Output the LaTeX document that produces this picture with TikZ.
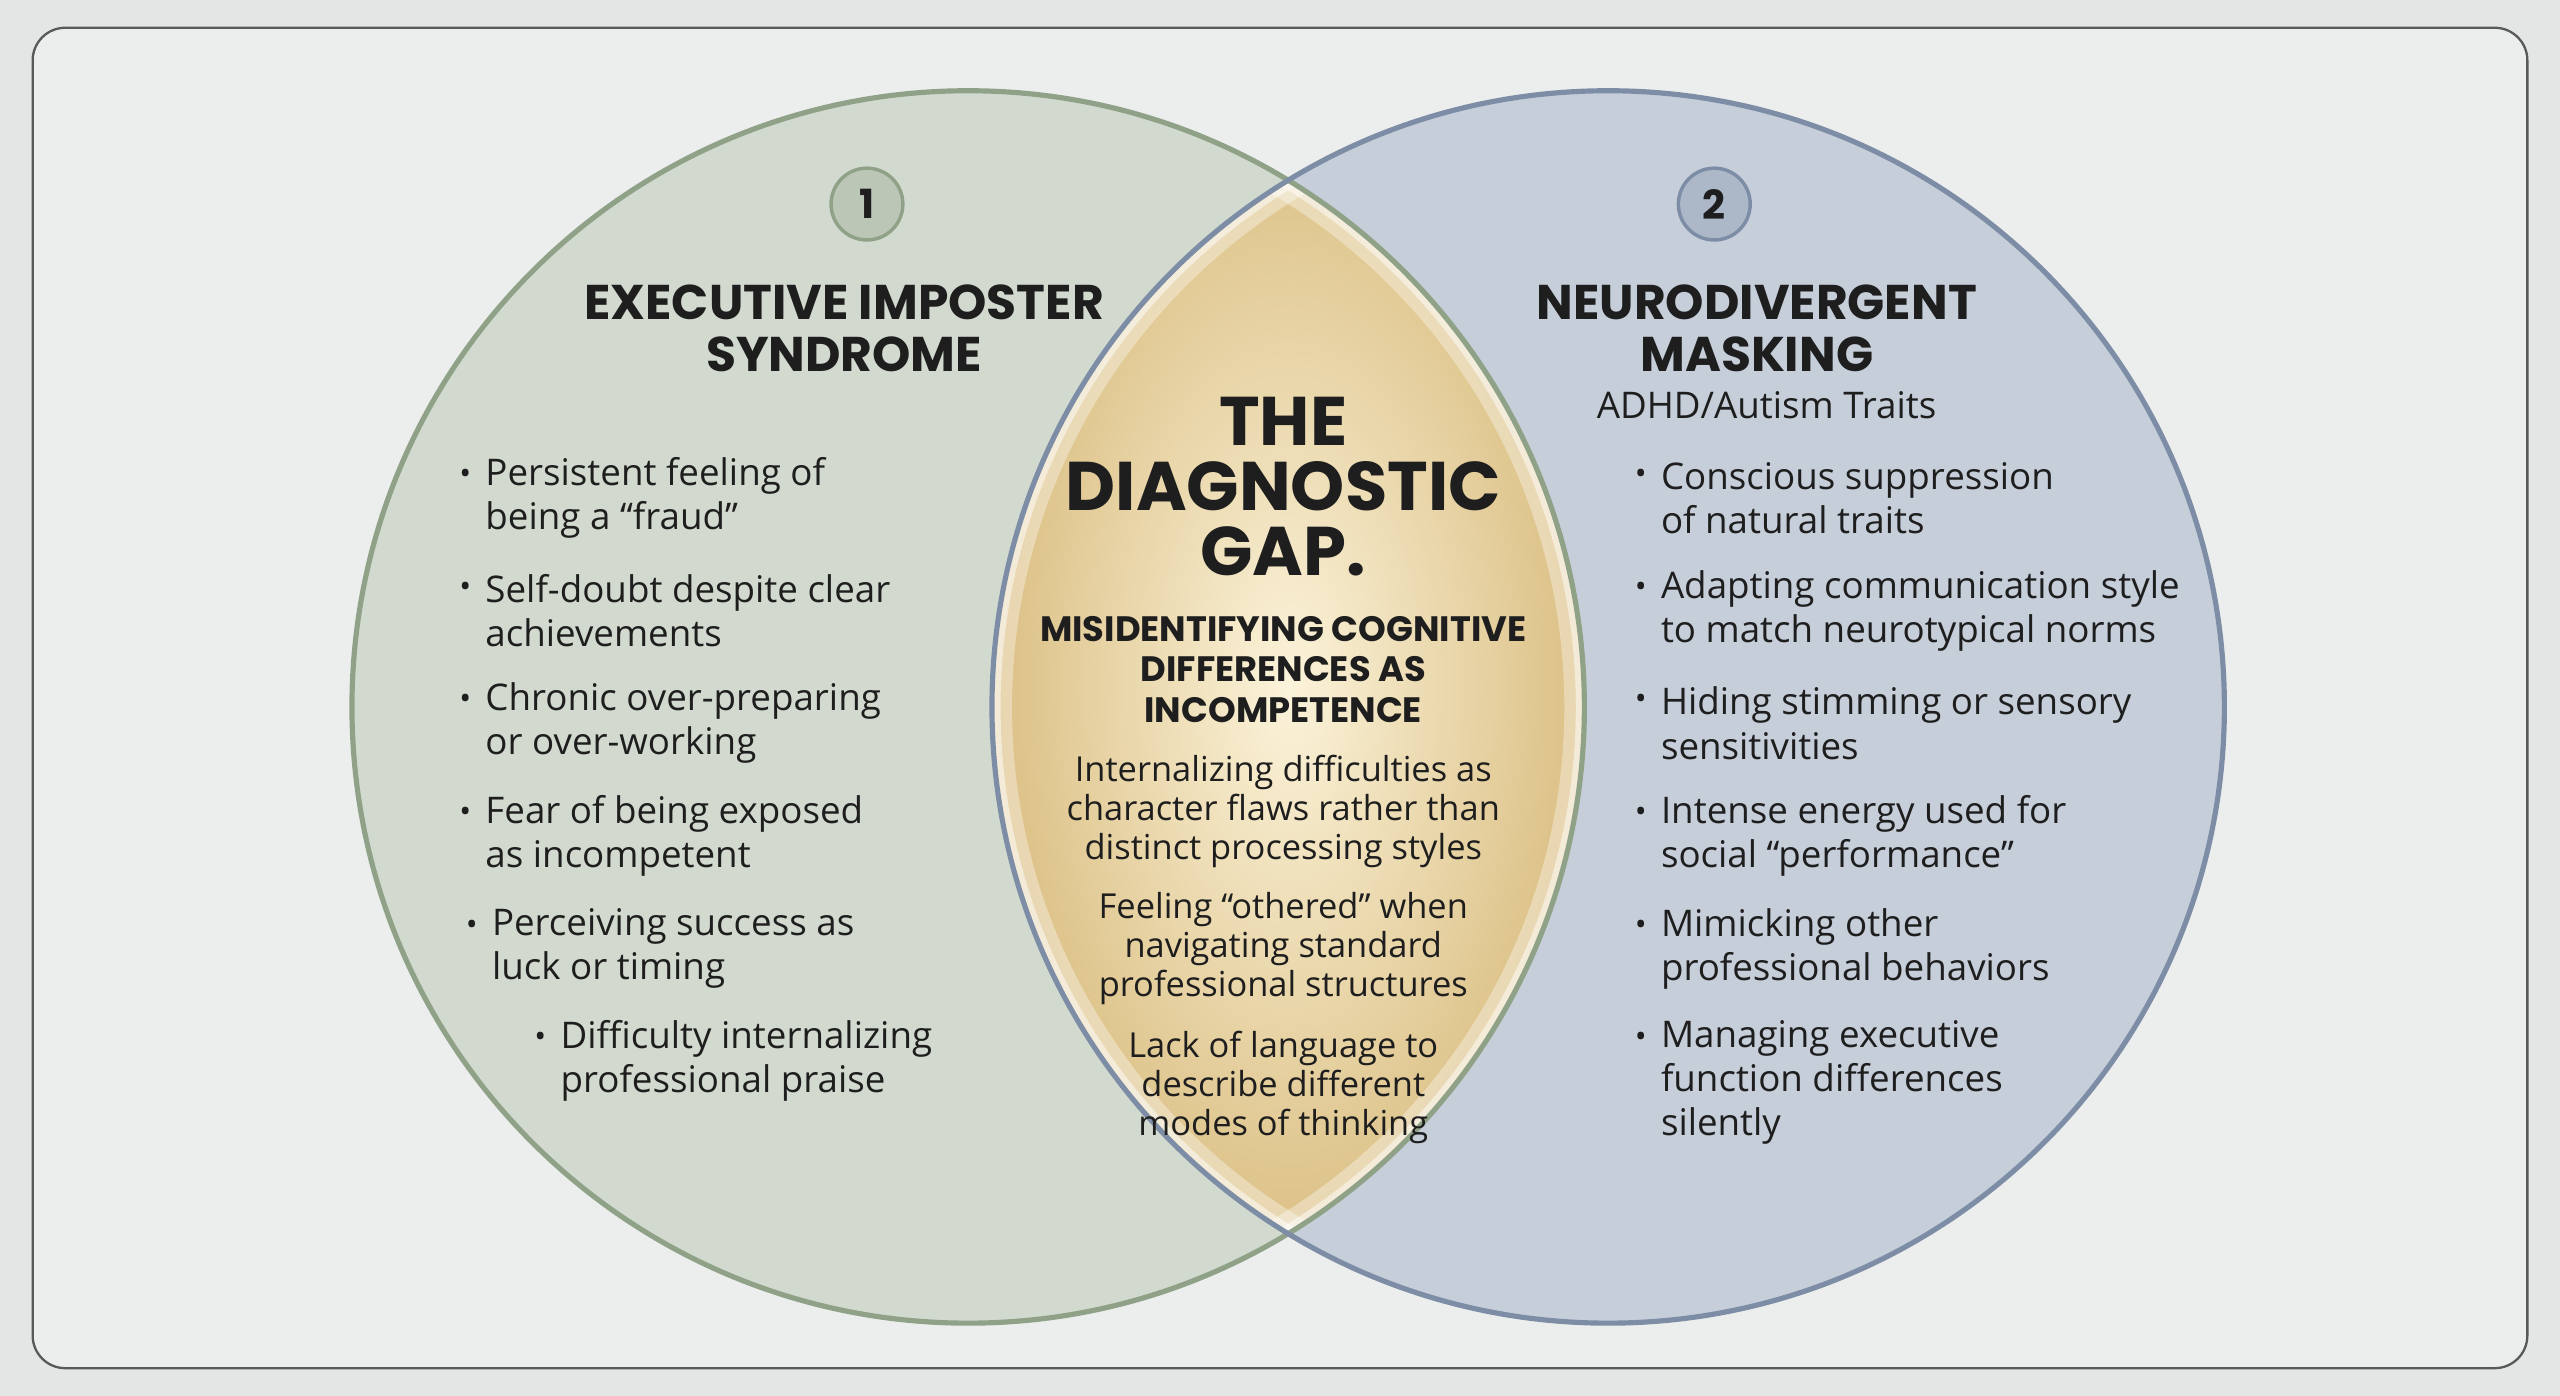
\documentclass[tikz,border=0pt]{standalone}
\usepackage{fontspec}
\setmainfont{Open Sans}
\newfontfamily\headf{Poppins}
\usetikzlibrary{positioning}
\definecolor{bg}{HTML}{E4E6E6}
\definecolor{inner}{HTML}{ECEDED}
\definecolor{lfill}{HTML}{D2DACF}
\definecolor{lline}{HTML}{8FA287}
\definecolor{rfill}{HTML}{C6CEDA}
\definecolor{rline}{HTML}{7D8DA6}
\definecolor{goldin}{HTML}{FBF3DA}
\definecolor{goldout}{HTML}{D9BC7E}
\definecolor{txt}{HTML}{1E1E1E}
\tikzset{
  x=0.02cm,y=-0.02cm,
  item/.style={anchor=west,align=left,inner sep=0,text=txt,font=\fontsize{12.8}{15.4}\selectfont},
  bul/.style={anchor=center,inner sep=0,text=txt,font=\fontsize{11}{12}\selectfont},
  ttl/.style={align=center,inner sep=0,text=txt,font=\headf\bfseries\fontsize{17}{18.3}\selectfont},
  ctr/.style={align=center,inner sep=0,text=txt,font=\fontsize{12}{13.7}\selectfont},
  num/.style={circle,minimum size=0.88cm,inner sep=0,draw,line width=1.2pt,font=\headf\bfseries\fontsize{14}{14}\selectfont,text=txt},
}
\begin{document}
\begin{tikzpicture}
\fill[bg] (0,0) rectangle (1568,855);
\useasboundingbox (0,0) rectangle (1568,855);
\draw[gray!70!black,line width=0.8pt,rounded corners=0.4cm,fill=inner] (20,17) rectangle (1548,838);
% circles
\fill[lfill] (593,433) circle (7.55cm);
\fill[rfill] (985,433) circle (7.55cm);
\begin{scope}
\clip (593,433) circle (7.55cm);
\clip (985,433) circle (7.55cm);
\shade[inner color=goldin,outer color=goldout] (789,420) ellipse (3.9cm and 7.4cm);
\draw[white,line width=14pt,opacity=0.35] (593,433) circle (7.55cm);
\draw[white,line width=14pt,opacity=0.35] (985,433) circle (7.55cm);
\draw[white,line width=6pt,opacity=0.5] (593,433) circle (7.55cm);
\draw[white,line width=6pt,opacity=0.5] (985,433) circle (7.55cm);
\end{scope}
\draw[lline,line width=1.8pt] (593,433) circle (7.55cm);
\draw[rline,line width=1.8pt] (985,433) circle (7.55cm);
\node[num,draw=lline,fill=lline!35!lfill] (n1) at (531,125) {1};
\node[num,draw=rline,fill=rline!35!rfill] (n2) at (1050,125) {2};
% titles
\node[ttl] (t1) at (517,201) {EXECUTIVE IMPOSTER\\SYNDROME};
\node[ttl] (t2) at (1076,201) {NEURODIVERGENT\\MASKING};
\node[inner sep=0,text=txt,font=\fontsize{12.8}{14}\selectfont] (s2) at (1082,248) {ADHD/Autism Traits};
% left bullets
\node[bul] (lb1) at (285,292) {•}; \node[item] (li1) at (297,305) {Persistent feeling of\\being a “fraud”};
\node[bul] (lb2) at (285,361) {•}; \node[item] (li2) at (297,374) {Self-doubt despite clear\\achievements};
\node[bul] (lb3) at (285,430) {•}; \node[item] (li3) at (297,443) {Chronic over-preparing\\or over-working};
\node[bul] (lb4) at (285,499) {•}; \node[item] (li4) at (297,512) {Fear of being exposed\\as incompetent};
\node[bul] (lb5) at (289,568) {•}; \node[item] (li5) at (301,581) {Perceiving success as\\luck or timing};
\node[bul] (lb6) at (331,637) {•}; \node[item] (li6) at (343,650) {Difficulty internalizing\\professional praise};
% right bullets
\node[bul] (rb1) at (1005,292) {•}; \node[item] (ri1) at (1017,305) {Conscious suppression\\of natural traits};
\node[bul] (rb2) at (1005,361) {•}; \node[item] (ri2) at (1017,374) {Adapting communication style\\to match neurotypical norms};
\node[bul] (rb3) at (1005,430) {•}; \node[item] (ri3) at (1017,443) {Hiding stimming or sensory\\sensitivities};
\node[bul] (rb4) at (1005,499) {•}; \node[item] (ri4) at (1017,512) {Intense energy used for\\social “performance”};
\node[bul] (rb5) at (1005,568) {•}; \node[item] (ri5) at (1017,581) {Mimicking other\\professional behaviors};
\node[bul] (rb6) at (1005,637) {•}; \node[item] (ri6) at (1017,663) {Managing executive\\function differences\\silently};
% center
\node[align=center,inner sep=0,text=txt,font=\headf\bfseries\fontsize{24}{22.7}\selectfont] (ct) at (786,298) {THE\\DIAGNOSTIC\\GAP.};
\node[align=center,inner sep=0,text=txt,font=\headf\bfseries\fontsize{12.3}{14.2}\selectfont] (cs) at (786,410) {MISIDENTIFYING COGNITIVE\\DIFFERENCES AS\\INCOMPETENCE};
\node[ctr] (c1) at (786,497) {Internalizing difficulties as\\character flaws rather than\\distinct processing styles};
\node[ctr] (c2) at (786,581) {Feeling “othered” when\\navigating standard\\professional structures};
\node[ctr] (c3) at (786,666) {Lack of language to\\describe different\\modes of thinking};
\end{tikzpicture}
\end{document}
